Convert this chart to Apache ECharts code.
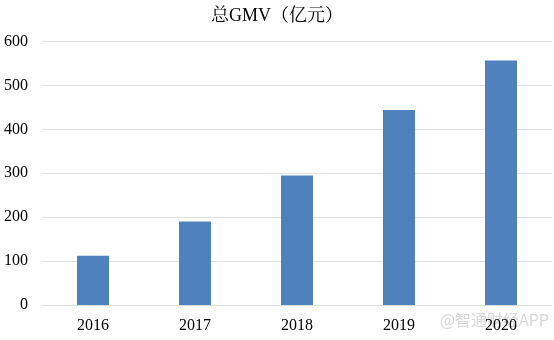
<!DOCTYPE html>
<html>
<head>
<meta charset="utf-8">
<script src="https://cdn.jsdelivr.net/npm/echarts@6/dist/echarts.min.js"></script>
<style>
  html, body { margin: 0; padding: 0; background: #fff; }
  #chart { width: 554px; height: 340px; }
</style>
</head>
<body>
<div id="chart"></div>
<script>
// Total GMV by year, in 亿元
const years = ['2016', '2017', '2018', '2019', '2020'];
const gmv = [112, 190, 295, 444, 557];
const yTicks = { min: 0, max: 600, interval: 100 };

const serif = '"Liberation Serif", "Times New Roman", "Noto Serif CJK SC", serif';

const chart = echarts.init(document.getElementById('chart'));
chart.setOption({
  backgroundColor: '#ffffff',
  animation: false,
  title: {
    text: '总GMV（亿元）',
    left: 'center',
    top: 2,
    textStyle: { fontFamily: serif, fontSize: 18, fontWeight: 'normal', color: '#000' }
  },
  grid: { left: 42, right: 2, top: 41.5, bottom: 35 },
  xAxis: {
    type: 'category',
    data: years,
    axisLine: { show: true, lineStyle: { color: '#dedede', width: 1 } },
    axisTick: { show: false },
    axisLabel: { fontFamily: serif, fontSize: 16, color: '#000', margin: 13 }
  },
  yAxis: {
    type: 'value',
    min: yTicks.min,
    max: yTicks.max,
    interval: yTicks.interval,
    axisLine: { show: false },
    axisTick: { show: false },
    splitLine: { lineStyle: { color: '#e2e2e2', width: 1 } },
    axisLabel: { fontFamily: serif, fontSize: 16, color: '#000', margin: 14 }
  },
  series: [{
    type: 'bar',
    data: gmv,
    barWidth: 32,
    itemStyle: { color: '#4f81bd' }
  }],
  graphic: [{
    type: 'text',
    right: 5,
    top: 312,
    style: {
      text: '@智通财经APP',
      font: '16px "Noto Sans CJK SC", sans-serif',
      fill: 'rgba(175,175,175,0.5)'
    }
  }]
});
</script>
</body>
</html>
